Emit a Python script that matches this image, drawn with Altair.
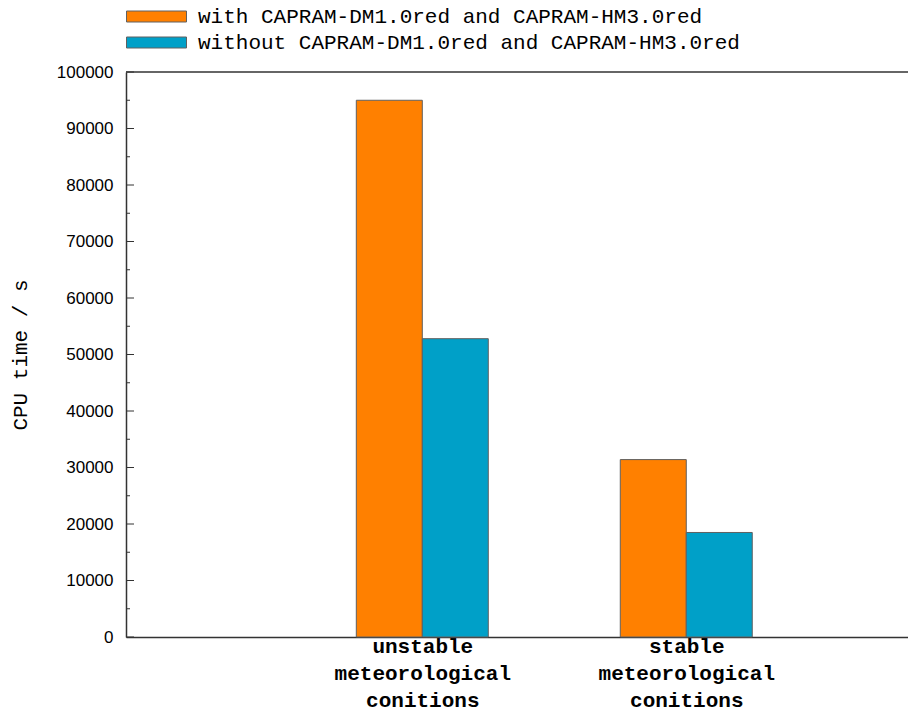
import json
import altair as alt
import pandas as pd

# --- data -------------------------------------------------------------
categories = ["unstable", "stable"]
category_lines = [
    ["unstable", "meteorological", "conitions"],
    ["stable", "meteorological", "conitions"],
]
series = [
    "with CAPRAM-DM1.0red and CAPRAM-HM3.0red",
    "without CAPRAM-DM1.0red and CAPRAM-HM3.0red",
]
cpu_with = [95000, 31400]
cpu_without = [52800, 18500]
y_major = list(range(0, 100001, 10000))
y_minor = list(range(5000, 100000, 10000))
colors = ["#FF8000", "#00A0C8"]

# --- layout constants ---------------------------------------------------
W, H = 782, 565
BOX = 0.25
AXIS_COLOR = "#333333"
MONO = "Liberation Mono"
SANS = "Liberation Sans"

rows = []
for i, cat in enumerate(categories):
    for j, vals in enumerate([cpu_with, cpu_without]):
        rows.append({"slot": i, "series": series[j], "order": j, "cpu": vals[i]})
bars_df = pd.DataFrame(rows)

ticks_df = pd.DataFrame(
    [{"v": v, "len": 8} for v in y_major] + [{"v": v, "len": 4} for v in y_minor]
)

label_expr = " : ".join(
    f"datum.value == {i} ? {json.dumps(lines)}" for i, lines in enumerate(category_lines)
) + " : ''"

x_scale = alt.Scale(domain=[-1.1225, 1.84], nice=False, zero=False)
y_scale = alt.Scale(domain=[0, 100000], nice=False)

bars = (
    alt.Chart(bars_df)
    .transform_calculate(
        x0=f"datum.slot + (datum.order - 1) * {BOX}",
        x1=f"datum.slot + datum.order * {BOX}",
    )
    .mark_bar(stroke="#606060", strokeWidth=1, opacity=1)
    .encode(
        x=alt.X(
            "x0:Q",
            scale=x_scale,
            axis=alt.Axis(
                values=[0, 1],
                labelExpr=label_expr,
                title=None,
                grid=False,
                ticks=False,
                domainColor=AXIS_COLOR,
                domainWidth=1.5,
                labelFont=MONO,
                labelFontWeight="bold",
                labelFontSize=21,
                labelLineHeight=27,
                labelPadding=-2,
                labelColor="black",
                labelAngle=0,
                labelFlush=False,
                labelOverlap=False,
            ),
        ),
        x2="x1:Q",
        y=alt.Y(
            "cpu:Q",
            scale=y_scale,
            axis=alt.Axis(
                values=y_major,
                format="d",
                ticks=False,
                grid=False,
                domainColor=AXIS_COLOR,
                domainWidth=1.5,
                labelFont=SANS,
                labelFontSize=17,
                labelColor="black",
                labelPadding=13,
                labelOverlap=False,
                title="CPU time / s",
                titleFont=MONO,
                titleFontSize=21,
                titleFontWeight="normal",
                titleColor="black",
                titlePadding=26,
            ),
        ),
        y2=alt.datum(0),
        color=alt.Color(
            "series:N",
            scale=alt.Scale(domain=series, range=colors),
            legend=alt.Legend(
                title=None,
                orient="none",
                legendX=20,
                legendY=-66,
                symbolType="M-6,-1.1H6V1.1H-6Z",
                symbolSize=100,
                symbolStrokeColor="#606060",
                symbolStrokeWidth=1,
                symbolOpacity=1,
                labelFont=MONO,
                labelFontSize=21,
                labelColor="black",
                labelOffset=31,
                labelLimit=800,
                rowPadding=4,
                padding=0,
            ),
        ),
        order=alt.Order("order:Q"),
    )
)

# inward tick marks on the left axis
ticks_minor = (
    alt.Chart(ticks_df)
    .transform_filter("datum.len == 4")
    .mark_rule(color=AXIS_COLOR, strokeWidth=1)
    .encode(y=alt.Y("v:Q", scale=y_scale), x=alt.value(0), x2=alt.value(4))
)
ticks_major = (
    alt.Chart(ticks_df)
    .transform_filter("datum.len == 8")
    .mark_rule(color=AXIS_COLOR, strokeWidth=1)
    .encode(y=alt.Y("v:Q", scale=y_scale), x=alt.value(0), x2=alt.value(8))
)

# top frame line
top_line = (
    alt.Chart(alt.Data(values=[{"k": 0}]))
    .mark_rule(color=AXIS_COLOR, strokeWidth=1.5)
    .encode(y=alt.value(0), x=alt.value(0), x2=alt.value(W))
)

chart = (
    alt.layer(bars, ticks_major, ticks_minor, top_line)
    .properties(
        width=W,
        height=H,
        autosize=alt.AutoSizeParams(type="none"),
        padding={"left": 126, "top": 72, "right": 0, "bottom": 70},
        background="white",
    )
    .configure_view(stroke=None)
)

chart.save("out.html", embed_options={"renderer": "svg", "actions": False})
